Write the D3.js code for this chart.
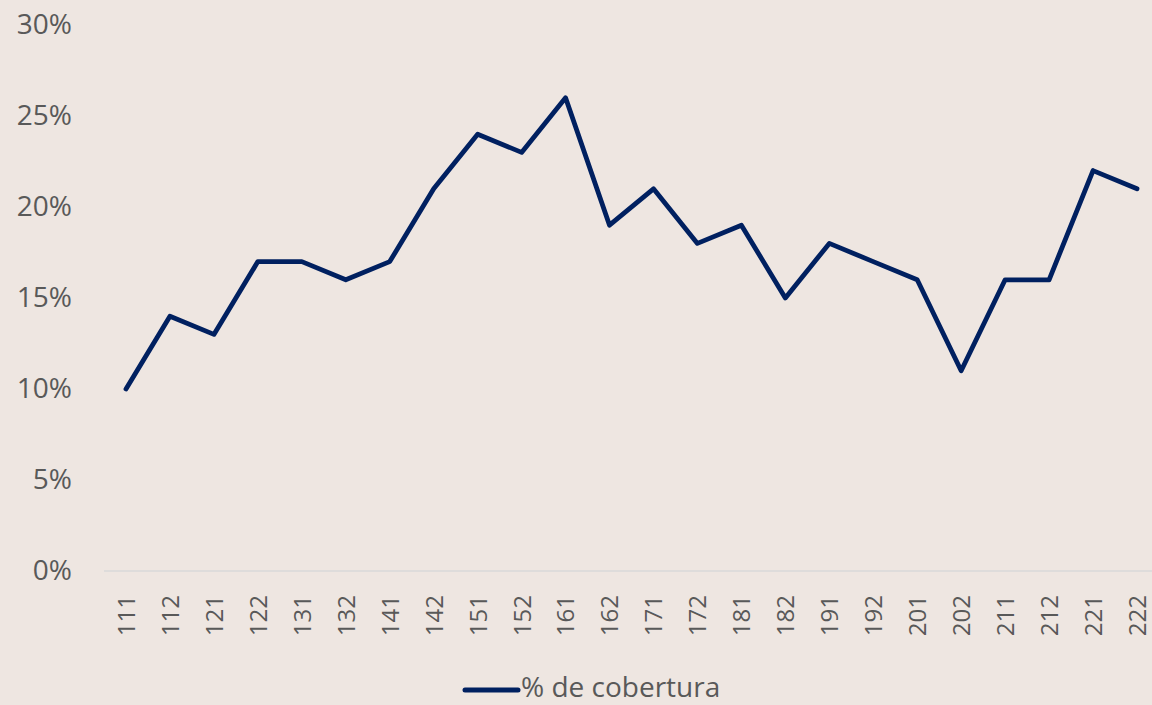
<!DOCTYPE html>
<html>
<head>
<meta charset="utf-8">
<script src="https://cdnjs.cloudflare.com/ajax/libs/d3/7.8.5/d3.min.js"></script>
<style>
  body { margin: 0; background: #EEE6E1; }
  svg { display: block; font-family: 'Open Sans', 'Noto Sans', sans-serif; }
</style>
</head>
<body>
<svg width="1152" height="705"></svg>
<script>
const categories = ['111', '112', '121', '122', '131', '132', '141', '142', '151', '152', '161', '162',
  '171', '172', '181', '182', '191', '192', '201', '202', '211', '212', '221', '222'];
const coverage = [10, 14, 13, 17, 17, 16, 17, 21, 24, 23, 26, 19,
  21, 18, 19, 15, 18, 17, 16, 11, 16, 16, 22, 21];
const yTicks = [0, 5, 10, 15, 20, 25, 30];
const seriesName = '% de cobertura';

const textColor = '#595959';
const lineColor = '#002060';

const svg = d3.select('svg');

const xScale = d3.scalePoint()
  .domain(categories)
  .range([126, 1137]);

const yScale = d3.scaleLinear()
  .domain([0, 30])
  .range([571, 25]);

// y axis labels, no line
const yAxis = svg.append('g')
  .attr('transform', 'translate(72, 0)')
  .call(d3.axisLeft(yScale).tickValues(yTicks).tickFormat(d => d + '%').tickSize(0).tickPadding(0));
yAxis.select('.domain').remove();
yAxis.selectAll('text')
  .attr('fill', textColor)
  .attr('font-size', '28px')
  .attr('font-family', "'Open Sans', 'Noto Sans', sans-serif");

// x axis baseline
svg.append('line')
  .attr('x1', 104)
  .attr('x2', 1152)
  .attr('y1', yScale(0))
  .attr('y2', yScale(0))
  .attr('stroke', '#D9D9D9')
  .attr('stroke-width', 1.5);

const xAxis = svg.append('g')
  .attr('transform', `translate(0, ${yScale(0)})`)
  .call(d3.axisBottom(xScale).tickSize(0));
xAxis.select('.domain').remove();
xAxis.selectAll('text')
  .attr('fill', textColor)
  .attr('font-size', '24px')
  .attr('font-family', "'Open Sans', 'Noto Sans', sans-serif")
  .attr('text-anchor', 'end')
  .attr('dy', '0.35em')
  .attr('transform', 'translate(0, 24) rotate(-90)')
  .attr('x', 0)
  .attr('y', 0);

// the line
const line = d3.line()
  .x((d, i) => xScale(categories[i]))
  .y(d => yScale(d));

svg.append('path')
  .datum(coverage)
  .attr('fill', 'none')
  .attr('stroke', lineColor)
  .attr('stroke-width', 4.8)
  .attr('stroke-linejoin', 'round')
  .attr('stroke-linecap', 'round')
  .attr('d', line);

// legend
svg.append('line')
  .attr('x1', 465)
  .attr('x2', 518)
  .attr('y1', 690)
  .attr('y2', 690)
  .attr('stroke', lineColor)
  .attr('stroke-width', 5)
  .attr('stroke-linecap', 'round');

svg.append('text')
  .attr('x', 521)
  .attr('y', 697)
  .attr('fill', textColor)
  .attr('font-size', '28px')
  .text(seriesName);
</script>
</body>
</html>
